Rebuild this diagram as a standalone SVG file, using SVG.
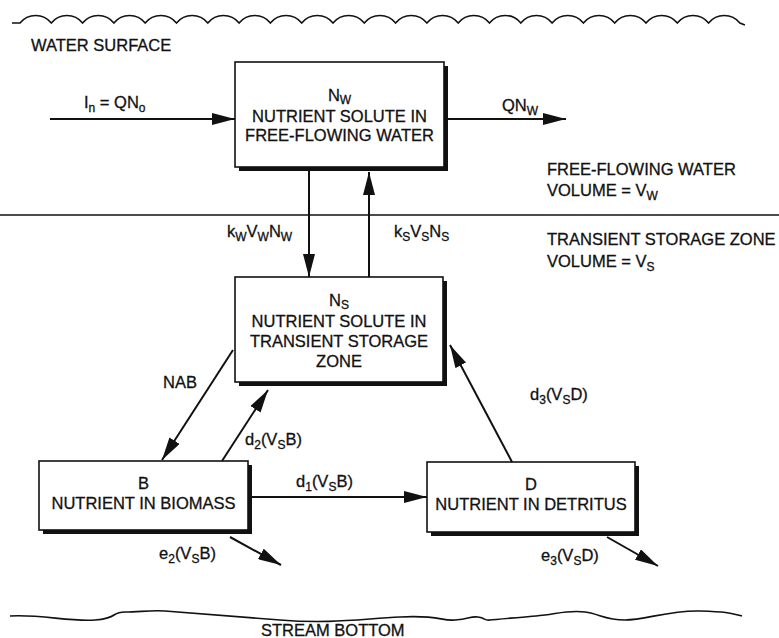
<svg xmlns="http://www.w3.org/2000/svg" width="779" height="638" viewBox="0 0 779 638">
<style>
.t{font-family:"Liberation Sans",Arial,sans-serif;font-size:16.5px;fill:#111;stroke:#111;stroke-width:0.3}
.c{text-anchor:middle}
.s{font-size:12px}
.box{fill:#fff;stroke:#111;stroke-width:1.6}
.sh{fill:#111}
.ln{stroke:#111;stroke-width:2;fill:none}
.wv{stroke:#111;stroke-width:1.6;fill:none}
</style>
<defs>
<marker id="ah" markerUnits="userSpaceOnUse" markerWidth="23" markerHeight="12" refX="23" refY="6" orient="auto">
<path d="M0,0 L23,6 L0,12 z" fill="#111"/>
</marker>
</defs>
<rect width="779" height="638" fill="#fff"/>

<g id="surface">
<path class="wv" d="M12,23 L20,23 a20,20 0 0 1 31.3,0 a20,20 0 0 1 31.3,0 a20,20 0 0 1 31.3,0 a20,20 0 0 1 31.3,0 a20,20 0 0 1 31.3,0 a20,20 0 0 1 31.3,0 a20,20 0 0 1 31.3,0 a20,20 0 0 1 31.3,0 a20,20 0 0 1 31.3,0 a20,20 0 0 1 31.3,0 a20,20 0 0 1 31.3,0 a20,20 0 0 1 31.3,0 a20,20 0 0 1 31.3,0 a20,20 0 0 1 31.3,0 a20,20 0 0 1 31.3,0 a20,20 0 0 1 31.3,0 a20,20 0 0 1 31.3,0 a20,20 0 0 1 31.3,0 a20,20 0 0 1 31.3,0 a20,20 0 0 1 31.3,0 a20,20 0 0 1 31.3,0 a20,20 0 0 1 31.3,0 a20,20 0 0 1 31.3,0 l5,2"/>
<text class="t" x="31" y="51">WATER SURFACE</text>
</g>

<g id="divider">
<line x1="0" y1="215" x2="779" y2="215" stroke="#111" stroke-width="1.3"/>
<text class="t" x="547" y="175">FREE-FLOWING WATER</text>
<text class="t" x="547" y="196">VOLUME = V<tspan class="s" dy="4">W</tspan></text>
<text class="t" x="547" y="245">TRANSIENT STORAGE ZONE</text>
<text class="t" x="547" y="267">VOLUME = V<tspan class="s" dy="4">S</tspan></text>
</g>

<g id="bottom">
<path class="wv" d="M10,616 C40,614 70,622 95,620 S110,612 125,612 S150,610 165,611 S230,616 280,620 S360,619 400,617 S440,621 455,620 S470,616 478,617 S484,621 490,620 S530,617 545,615 S570,610 585,612 S605,620 625,620 S670,610 700,611 S730,613 742,616"/>
<text class="t" x="261" y="636">STREAM BOTTOM</text>
</g>

<g id="node-NW">
<rect class="sh" x="239" y="66" width="209" height="105"/>
<rect class="box" x="235" y="62" width="209" height="105"/>
<text class="t c" x="339.5" y="101">N<tspan class="s" dy="3">W</tspan></text>
<text class="t c" x="339.5" y="122">NUTRIENT SOLUTE IN</text>
<text class="t c" x="339.5" y="141">FREE-FLOWING WATER</text>
</g>

<g id="node-NS">
<rect class="sh" x="239" y="281" width="208" height="105"/>
<rect class="box" x="235" y="277" width="208" height="105"/>
<text class="t c" x="339" y="306">N<tspan class="s" dy="3">S</tspan></text>
<text class="t c" x="339" y="327">NUTRIENT SOLUTE IN</text>
<text class="t c" x="339" y="347">TRANSIENT STORAGE</text>
<text class="t c" x="339" y="367">ZONE</text>
</g>

<g id="node-B">
<rect class="sh" x="43" y="465" width="209" height="69"/>
<rect class="box" x="39" y="461" width="209" height="69"/>
<text class="t c" x="143.5" y="489">B</text>
<text class="t c" x="143.5" y="509">NUTRIENT IN BIOMASS</text>
</g>

<g id="node-D">
<rect class="sh" x="431" y="466" width="208" height="70"/>
<rect class="box" x="427" y="462" width="208" height="70"/>
<text class="t c" x="531" y="490">D</text>
<text class="t c" x="531" y="510">NUTRIENT IN DETRITUS</text>
</g>

<g id="connectors">
<line class="ln" x1="50" y1="119" x2="235" y2="119" marker-end="url(#ah)"/>
<line class="ln" x1="448" y1="119" x2="566" y2="119" marker-end="url(#ah)"/>
<line class="ln" x1="309" y1="171" x2="309" y2="277" marker-end="url(#ah)"/>
<line class="ln" x1="369" y1="277" x2="369" y2="172" marker-end="url(#ah)"/>
<line class="ln" x1="233" y1="350" x2="162" y2="460" marker-end="url(#ah)"/>
<line class="ln" x1="222" y1="461" x2="268" y2="390" marker-end="url(#ah)"/>
<line class="ln" x1="252" y1="497" x2="427" y2="497" marker-end="url(#ah)"/>
<line class="ln" x1="512" y1="462" x2="450" y2="345" marker-end="url(#ah)"/>
<line class="ln" x1="230" y1="537" x2="281" y2="565" marker-end="url(#ah)"/>
<line class="ln" x1="607" y1="537" x2="658" y2="566" marker-end="url(#ah)"/>
</g>

<g id="labels">
<text class="t" x="84" y="108">I<tspan class="s" dy="4">n</tspan><tspan dy="-4"> = QN</tspan><tspan class="s" dy="4">o</tspan></text>
<text class="t" x="502" y="111">QN<tspan class="s" dy="4">W</tspan></text>
<text class="t" x="227" y="237">k<tspan class="s" dy="4">W</tspan><tspan dy="-4">V</tspan><tspan class="s" dy="4">W</tspan><tspan dy="-4">N</tspan><tspan class="s" dy="4">W</tspan></text>
<text class="t" x="394" y="237">k<tspan class="s" dy="4">S</tspan><tspan dy="-4">V</tspan><tspan class="s" dy="4">S</tspan><tspan dy="-4">N</tspan><tspan class="s" dy="4">S</tspan></text>
<text class="t" x="163" y="388">NAB</text>
<text class="t" x="245" y="445">d<tspan class="s" dy="4">2</tspan><tspan dy="-4">(V</tspan><tspan class="s" dy="4">S</tspan><tspan dy="-4">B)</tspan></text>
<text class="t" x="296" y="487">d<tspan class="s" dy="4">1</tspan><tspan dy="-4">(V</tspan><tspan class="s" dy="4">S</tspan><tspan dy="-4">B)</tspan></text>
<text class="t" x="530" y="400">d<tspan class="s" dy="4">3</tspan><tspan dy="-4">(V</tspan><tspan class="s" dy="4">S</tspan><tspan dy="-4">D)</tspan></text>
<text class="t" x="159" y="559">e<tspan class="s" dy="4">2</tspan><tspan dy="-4">(V</tspan><tspan class="s" dy="4">S</tspan><tspan dy="-4">B)</tspan></text>
<text class="t" x="541" y="561">e<tspan class="s" dy="4">3</tspan><tspan dy="-4">(V</tspan><tspan class="s" dy="4">S</tspan><tspan dy="-4">D)</tspan></text>
</g>
</svg>
